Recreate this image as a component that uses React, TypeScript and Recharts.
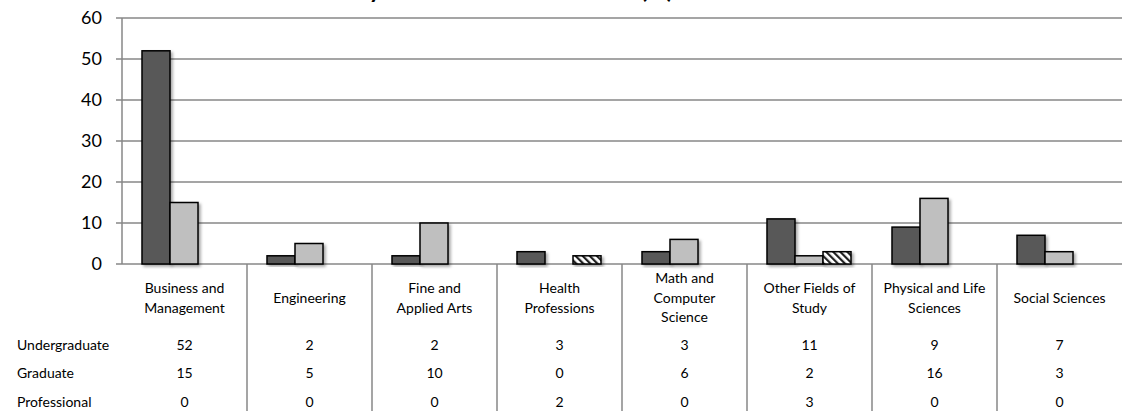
import React from 'react';
import { BarChart, Bar, XAxis, YAxis, CartesianGrid } from 'recharts';

const categories = [
  'Business and Management',
  'Engineering',
  'Fine and Applied Arts',
  'Health Professions',
  'Math and Computer Science',
  'Other Fields of Study',
  'Physical and Life Sciences',
  'Social Sciences',
];
const categoryLabelLines = [
  ['Business and', 'Management'],
  ['Engineering'],
  ['Fine and', 'Applied Arts'],
  ['Health', 'Professions'],
  ['Math and', 'Computer', 'Science'],
  ['Other Fields of', 'Study'],
  ['Physical and Life', 'Sciences'],
  ['Social Sciences'],
];
const undergraduate = [52, 2, 2, 3, 3, 11, 9, 7];
const graduate = [15, 5, 10, 0, 6, 2, 16, 3];
const professional = [0, 0, 0, 2, 0, 3, 0, 0];
const seriesNames = ['Undergraduate', 'Graduate', 'Professional'];
const seriesValues = [undergraduate, graduate, professional];
const yTicks = [0, 10, 20, 30, 40, 50, 60];
const title = 'Enrollment by Field and Student Level (%)';

const data = categories.map((name, i) => ({
  name,
  Undergraduate: undergraduate[i],
  Graduate: graduate[i],
  Professional: professional[i],
}));

const W = 1122;
const H = 411;
const PLOT_LEFT = 122;
const BAND = (W - PLOT_LEFT) / categories.length;
const X_AXIS_H = 147;
const FONT = 'Lato, "Open Sans", sans-serif';
const GRID = '#878787';

const XTick = (props: any) => {
  const { x, y, index } = props;
  const lines = categoryLabelLines[index] || [];
  const LH = 19.5;
  const center = y + 34;
  const start = center - ((lines.length - 1) * LH) / 2;
  return (
    <g>
      {index < categories.length - 1 && (
        <line x1={x + BAND / 2} x2={x + BAND / 2} y1={y} y2={y + X_AXIS_H} stroke={GRID} strokeWidth={1.5} />
      )}
      {lines.map((l, i) => (
        <text key={i} x={x} y={start + i * LH} dy="0.355em" textAnchor="middle" fontSize={14} fontFamily={FONT} fill="#000">
          {l}
        </text>
      ))}
      {seriesValues.map((vals, r) => (
        <text key={'v' + r} x={x} y={y + 81 + r * 28.5} dy="0.355em" textAnchor="middle" fontSize={14} fontFamily={FONT} fill="#000">
          {vals[index]}
        </text>
      ))}
      {index === 0 &&
        seriesNames.map((s, r) => (
          <text key={'n' + r} x={17} y={y + 81 + r * 28.5} dy="0.355em" textAnchor="start" fontSize={14} fontFamily={FONT} fill="#000">
            {s}
          </text>
        ))}
    </g>
  );
};

const ShadowBar = (props: any) => {
  const { x, y, width, height, fill } = props;
  if (!height || height <= 0) return null;
  return (
    <rect x={x} y={y} width={width} height={height} fill={fill} stroke="#000" strokeWidth={1.5} filter="url(#barShadow)" />
  );
};

export default function App() {
  return (
    <div style={{ position: 'absolute', left: 0, top: 0, width: W, height: H, background: '#fff', overflow: 'hidden' }}>
      <svg width={0} height={0} style={{ position: 'absolute' }}>
        <defs>
          <filter id="barShadow" x="-20%" y="-20%" width="150%" height="150%">
            <feDropShadow dx="2" dy="2" stdDeviation="1.5" floodColor="#000" floodOpacity="0.35" />
          </filter>
          <pattern id="hatch" width="5" height="5" patternUnits="userSpaceOnUse" patternTransform="rotate(-45)">
            <rect width="5" height="5" fill="#fff" />
            <rect width="2.2" height="5" fill="#222" />
          </pattern>
        </defs>
      </svg>
      <BarChart
        width={W}
        height={H}
        data={data}
        margin={{ top: 18, right: 0, bottom: 0, left: 0 }}
        barCategoryGap="16%"
        barGap={0}
      >
        <CartesianGrid vertical={false} stroke={GRID} strokeWidth={1.5} />
        <XAxis
          dataKey="name"
          height={X_AXIS_H}
          interval={0}
          tickLine={false}
          tickSize={0}
          tickMargin={0}
          axisLine={{ stroke: '#808080', strokeWidth: 2, filter: 'url(#barShadow)' }}
          tick={<XTick />}
        />
        <YAxis
          width={PLOT_LEFT}
          domain={[0, 60]}
          ticks={yTicks}
          interval={0}
          axisLine={{ stroke: GRID, strokeWidth: 1.5 }}
          tickLine={{ stroke: GRID, strokeWidth: 1.5 }}
          tickSize={6}
          tickMargin={14}
          tick={{ fontSize: 18, fill: '#000', fontFamily: FONT }}
        />
        <Bar dataKey="Undergraduate" fill="#595959" isAnimationActive={false} shape={<ShadowBar />} />
        <Bar dataKey="Graduate" fill="#bfbfbf" isAnimationActive={false} shape={<ShadowBar />} />
        <Bar dataKey="Professional" fill="url(#hatch)" isAnimationActive={false} shape={<ShadowBar />} />
      </BarChart>
      <svg width={W} height={20} style={{ position: 'absolute', left: 0, top: 0, pointerEvents: 'none' }}>
        <text x={233} y={-2} fontSize={24} fontWeight="bold" fontFamily={FONT} fill="#000">
          {title}
        </text>
      </svg>
    </div>
  );
}
